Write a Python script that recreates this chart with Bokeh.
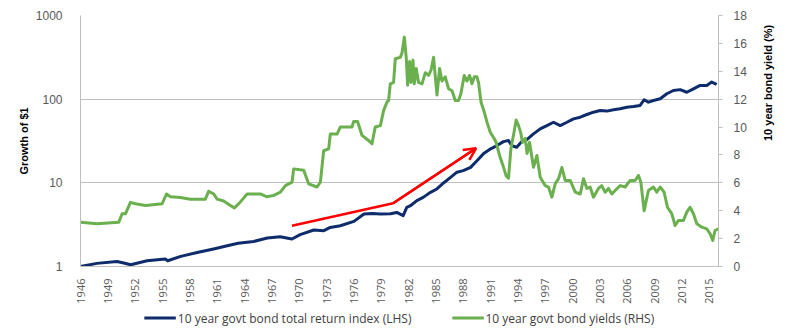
import math
from bokeh.plotting import figure
from bokeh.layouts import column
from bokeh.models import (Range1d, LinearAxis, LinearScale, FixedTicker, PrintfTickFormatter,
                          Legend, LegendItem, Arrow, OpenHead, ColumnDataSource)
from bokeh.embed import file_html
from bokeh.resources import INLINE

# ---- data ----
tr_years = [1946.0, 1947.8, 1950.0, 1950.75, 1951.5, 1953.3, 1955.3, 1955.57, 1957.0, 1958.8,
            1960.6, 1962.1, 1963.3, 1965.0, 1966.5, 1967.9, 1969.2, 1970.1, 1971.6, 1972.7,
            1973.4, 1974.5, 1976.0, 1977.1, 1978.0, 1978.9, 1980.0, 1980.7, 1981.4, 1981.8,
            1982.2, 1982.9, 1983.6, 1984.4, 1985.1, 1985.9, 1986.6, 1987.3, 1988.0, 1988.8,
            1989.5, 1990.2, 1991.0, 1991.7, 1992.4, 1992.96, 1993.3, 1993.85, 1994.4, 1995.0,
            1995.7, 1996.44, 1997.17, 1997.9, 1998.63, 1999.37, 2000.09, 2000.83, 2001.56, 2002.28,
            2003.02, 2003.75, 2004.48, 2005.21, 2005.94, 2006.67, 2007.4, 2007.84, 2008.31, 2008.86,
            2009.6, 2010.33, 2011.05, 2011.79, 2012.52, 2013.25, 2013.98, 2014.71, 2015.25, 2015.8]
tr_index = [1.00, 1.09, 1.15, 1.10, 1.05, 1.17, 1.23, 1.17, 1.32, 1.47,
            1.62, 1.77, 1.90, 1.99, 2.19, 2.27, 2.13, 2.40, 2.73, 2.68,
            2.93, 3.07, 3.46, 4.24, 4.31, 4.24, 4.28, 4.43, 4.05, 5.09,
            5.33, 6.12, 6.70, 7.70, 8.45, 10.1, 11.6, 13.4, 14.0, 15.3,
            18.4, 22.2, 25.5, 27.9, 31.1, 32.0, 27.9, 26.6, 31.0, 33.0,
            38.5, 44.2, 48.4, 53.0, 48.4, 53.0, 58.2, 60.9, 65.6, 69.9,
            73.2, 72.0, 74.6, 76.8, 80.2, 81.5, 84.1, 98.4, 92.0, 96.5,
            101.0, 116.0, 127.0, 130.0, 121.0, 133.0, 146.0, 146.0, 160.0, 150.0]

yld_years = [1946.0, 1947.83, 1950.2, 1950.57, 1950.93, 1951.48, 1952.03, 1953.13, 1954.96, 1955.43,
             1955.87, 1956.96, 1958.06, 1959.7, 1960.07, 1960.62, 1960.99, 1961.71, 1962.45, 1962.89,
             1963.36, 1963.5, 1964.28, 1965.74, 1966.47, 1967.2, 1967.93, 1968.48, 1969.21, 1969.39,
             1970.49, 1971.03, 1971.95, 1972.32, 1972.68, 1973.23, 1973.41, 1974.15, 1974.5, 1975.79,
             1975.97, 1976.4, 1976.89, 1977.6, 1977.98, 1978.34, 1978.9, 1979.26, 1979.63, 1979.8,
             1979.99, 1980.35, 1980.54, 1981.09, 1981.27, 1981.53, 1981.75, 1981.89, 1982.11, 1982.26,
             1982.48, 1982.62, 1982.84, 1983.09, 1983.47, 1983.83, 1984.19, 1984.45, 1984.74, 1985.11,
             1985.4, 1985.66, 1986.02, 1986.38, 1986.76, 1987.12, 1987.48, 1987.74, 1988.1, 1988.4,
             1988.69, 1988.95, 1989.2, 1989.5, 1989.67, 1989.94, 1990.3, 1990.6, 1990.96, 1991.4,
             1991.6, 1991.98, 1992.35, 1992.7, 1992.96, 1993.22, 1993.5, 1993.8, 1994.06, 1994.3,
             1994.5, 1994.8, 1995.0, 1995.27, 1995.7, 1996.08, 1996.44, 1996.99, 1997.35, 1997.72,
             1998.08, 1998.45, 1998.82, 1999.18, 1999.73, 2000.28, 2000.83, 2001.19, 2001.56, 2001.92,
             2002.28, 2002.83, 2003.19, 2003.57, 2003.93, 2004.3, 2004.66, 2005.21, 2005.76, 2006.31,
             2006.86, 2007.22, 2007.48, 2007.84, 2008.31, 2008.86, 2009.23, 2009.6, 2010.03, 2010.4,
             2010.88, 2011.24, 2011.6, 2012.15, 2012.52, 2012.88, 2013.25, 2013.62, 2014.17, 2014.71,
             2015.08, 2015.37, 2015.62, 2015.99]
yld_pct = [3.18, 3.06, 3.18, 3.78, 3.78, 4.6, 4.5, 4.38, 4.5, 5.2,
           5.0, 4.95, 4.83, 4.83, 5.4, 5.2, 4.83, 4.7, 4.38, 4.2,
           4.5, 4.6, 5.2, 5.2, 5.0, 5.1, 5.33, 5.8, 6.05, 7.0,
           6.9, 5.93, 5.7, 6.05, 8.3, 8.44, 9.5, 9.5, 10.0, 10.0,
           10.4, 10.4, 9.4, 9.04, 8.8, 10.0, 10.1, 11.2, 11.8, 11.9,
           13.1, 13.2, 14.9, 15.0, 15.3, 16.45, 14.9, 13.0, 14.7, 13.2,
           14.8, 13.1, 14.2, 13.2, 13.1, 13.9, 13.7, 14.06, 15.0, 12.3,
           14.2, 13.3, 13.6, 12.75, 12.6, 11.9, 11.9, 12.4, 13.7, 13.3,
           13.7, 13.1, 13.6, 13.6, 13.2, 11.8, 11.07, 10.35, 9.63, 9.16,
           8.9, 7.96, 7.25, 6.5, 6.33, 8.44, 9.4, 10.5, 10.1, 9.6,
           8.9, 9.2, 8.1, 8.9, 7.12, 7.96, 6.4, 5.8, 5.7, 4.97,
           5.93, 6.3, 7.1, 6.17, 6.17, 5.33, 5.2, 6.3, 5.6, 5.7,
           4.97, 5.6, 5.8, 5.33, 5.6, 5.2, 5.45, 5.8, 5.7, 6.17,
           6.17, 6.53, 6.05, 4.0, 5.45, 5.7, 5.33, 5.7, 5.33, 4.25,
           3.78, 2.94, 3.3, 3.3, 3.9, 4.25, 3.78, 3.06, 2.82, 2.7,
           2.35, 1.87, 2.58, 2.7]

year_ticks = list(range(1946, 2016, 3))
left_ticks = [1, 10, 100, 1000]
right_ticks = list(range(0, 19, 2))
series_labels = ["10 year govt bond total return index (LHS)", "10 year govt bond yields (RHS)"]

# annotation arrow (start, elbow, tip) in data coordinates
arrow_years = [1969.2, 1980.3, 1989.4]
arrow_values = [3.07, 5.69, 25.9]

NAVY = "#0E2C6B"
GREEN = "#6AB04E"
GRID = "#BFBFBF"
TICK_TXT = "#595959"

p = figure(width=800, height=306, y_axis_type="log",
           x_range=Range1d(1946, 2016), y_range=Range1d(1, 1000),
           output_backend="svg", toolbar_location=None,
           min_border_left=80, min_border_right=82, min_border_top=15, min_border_bottom=40)
p.outline_line_color = None
p.background_fill_color = "white"
p.border_fill_color = "white"

p.extra_y_ranges = {"yld": Range1d(0, 18)}
p.extra_y_scales = {"yld": LinearScale()}

# grid
p.xgrid.visible = False
p.ygrid.ticker = FixedTicker(ticks=[10, 100, 1000])
p.ygrid.grid_line_color = GRID
p.ygrid.grid_line_width = 1
p.ygrid.minor_grid_line_color = None

# left axis
la = p.yaxis[0]
la.ticker = FixedTicker(ticks=left_ticks)
la.formatter = PrintfTickFormatter(format="%d")
la.axis_label = "Growth of $1"
la.axis_label_text_font = "Liberation Sans"
la.axis_label_text_font_style = "bold"
la.axis_label_text_font_size = "11px"
la.axis_label_text_color = "black"
la.axis_label_standoff = 3
la.major_label_text_font = "Liberation Sans"
la.major_label_text_font_size = "12px"
la.major_label_text_color = TICK_TXT
la.major_label_standoff = 12
la.major_tick_line_color = None
la.minor_tick_line_color = None
la.axis_line_color = GRID

# bottom axis
xa = p.xaxis[0]
xa.ticker = FixedTicker(ticks=year_ticks)
xa.formatter = PrintfTickFormatter(format="%d")
xa.major_label_orientation = math.pi / 2
xa.major_label_text_font = "Open Sans"
xa.major_label_text_font_size = "11px"
xa.major_label_text_color = TICK_TXT
xa.major_label_standoff = 6
xa.major_tick_line_color = None
xa.minor_tick_line_color = None
xa.axis_line_color = GRID

# right axis
ra = LinearAxis(y_range_name="yld", ticker=FixedTicker(ticks=right_ticks))
ra.axis_label = "10 year bond yield (%)"
ra.axis_label_orientation = math.pi / 2
ra.axis_label_text_font = "Liberation Sans"
ra.axis_label_text_font_style = "bold"
ra.axis_label_text_font_size = "11px"
ra.axis_label_text_color = "black"
ra.axis_label_standoff = 18
ra.major_label_text_font = "Liberation Sans"
ra.major_label_text_font_size = "12px"
ra.major_label_text_color = TICK_TXT
ra.major_label_standoff = 11
ra.major_tick_in = 0
ra.major_tick_out = 4
ra.major_tick_line_color = GRID
ra.minor_tick_line_color = None
ra.axis_line_color = GRID
p.add_layout(ra, "right")

# series
tr_src = ColumnDataSource(dict(x=tr_years, y=tr_index))
yl_src = ColumnDataSource(dict(x=yld_years, y=yld_pct))
p.line("x", "y", source=tr_src, line_color=NAVY, line_width=3, line_join="round")
p.line("x", "y", source=yl_src, line_color=GREEN, line_width=3, line_join="round",
       y_range_name="yld")

# red arrow
p.line(arrow_years, arrow_values, line_color="red", line_width=2.5, line_join="round")
p.add_layout(Arrow(end=OpenHead(size=12, line_color="red", line_width=2.5),
                   x_start=arrow_years[1], y_start=arrow_values[1],
                   x_end=arrow_years[2], y_end=arrow_values[2],
                   line_color="red", line_width=2.5))

# legend strip below the chart (swatch renderers hold no visible data)
lg = figure(width=800, height=23, x_range=Range1d(0, 1), y_range=Range1d(0, 1),
            output_backend="svg", toolbar_location=None,
            x_axis_location=None, y_axis_location=None,
            min_border_left=0, min_border_right=0, min_border_top=0, min_border_bottom=0)
lg.outline_line_color = None
lg.xgrid.visible = False
lg.ygrid.visible = False
k1 = lg.line(x=[math.nan], y=[math.nan], line_color=NAVY, line_width=3)
k2 = lg.line(x=[math.nan], y=[math.nan], line_color=GREEN, line_width=3)
legend = Legend(items=[LegendItem(label=series_labels[0], renderers=[k1]),
                       LegendItem(label=series_labels[1], renderers=[k2])],
                orientation="horizontal", location="center")
legend.label_text_font = "Open Sans"
legend.label_text_font_size = "12px"
legend.label_text_color = "#404040"
legend.glyph_width = 32
legend.glyph_height = 14
legend.label_standoff = 2
legend.spacing = 40
legend.padding = 2
legend.margin = 0
legend.border_line_color = None
legend.background_fill_alpha = 0
lg.add_layout(legend, "center")

open("out.html", "w").write(file_html(column(p, lg, spacing=0), INLINE))
